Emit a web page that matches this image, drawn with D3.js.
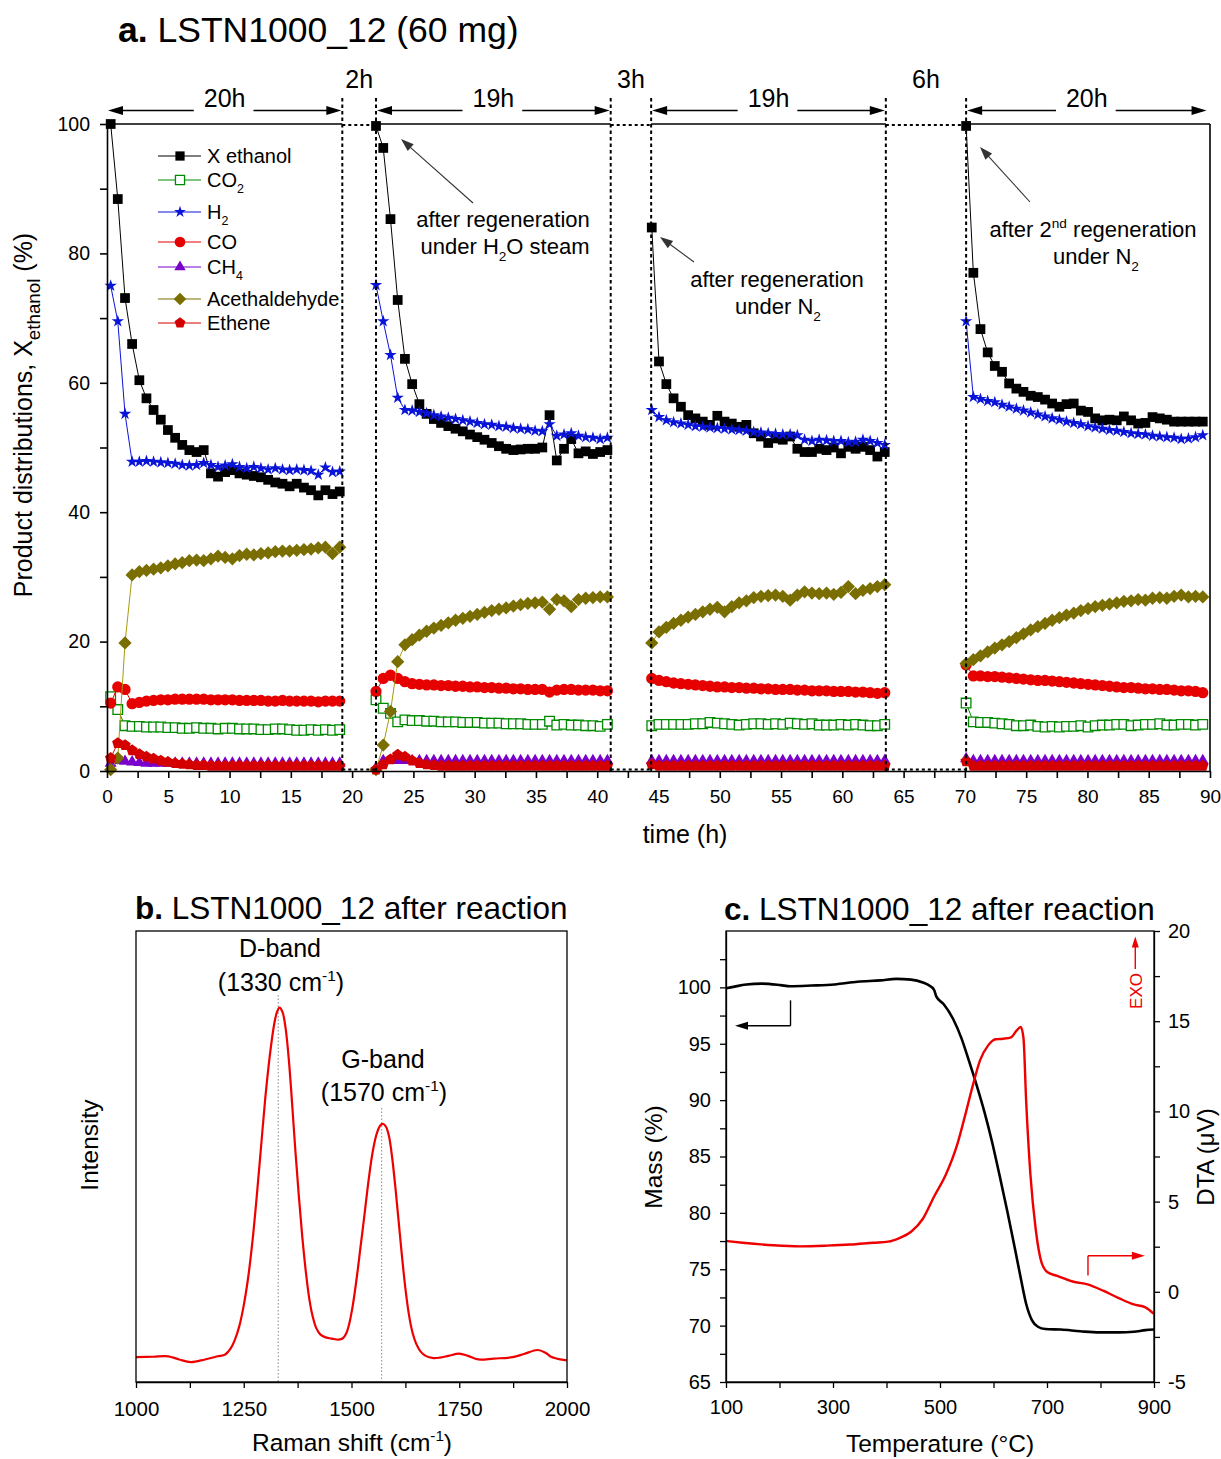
<!DOCTYPE html>
<html>
<head>
<meta charset="utf-8">
<script src="https://cdn.jsdelivr.net/npm/d3@7"></script>
<style>
  html, body { margin: 0; padding: 0; background: #fff; }
  svg { display: block; font-family: "Liberation Sans", Arial, Helvetica, sans-serif; }
</style>
</head>
<body>
<svg id="fig" width="1221" height="1459"></svg>
<script>
// ---------------- Panel a: product distribution vs time on stream ----------------
// sampling times (h) of the four reaction periods
const timesRun1 = [0.3, 0.88, 1.47, 2.05, 2.64, 3.22, 3.8, 4.39, 4.97, 5.56, 6.14, 6.72, 7.31, 7.89, 8.48, 9.06, 9.64, 10.23, 10.81, 11.4, 11.98, 12.56, 13.15, 13.73, 14.32, 14.9, 15.48, 16.07, 16.65, 17.24, 17.82, 18.4, 18.99];
const timesRun2 = [21.95, 22.54, 23.13, 23.72, 24.31, 24.9, 25.49, 26.08, 26.67, 27.26, 27.85, 28.44, 29.03, 29.62, 30.21, 30.8, 31.39, 31.98, 32.57, 33.16, 33.75, 34.34, 34.93, 35.52, 36.11, 36.7, 37.29, 37.88, 38.47, 39.06, 39.65, 40.24, 40.83];
const timesRun3 = [44.45, 45.04, 45.64, 46.23, 46.83, 47.42, 48.01, 48.61, 49.2, 49.8, 50.39, 50.98, 51.58, 52.17, 52.77, 53.36, 53.95, 54.55, 55.14, 55.74, 56.33, 56.92, 57.52, 58.11, 58.71, 59.3, 59.89, 60.49, 61.08, 61.68, 62.27, 62.86, 63.46];
const timesRun4 = [70.1, 70.69, 71.27, 71.86, 72.44, 73.03, 73.61, 74.2, 74.78, 75.37, 75.95, 76.54, 77.12, 77.71, 78.29, 78.88, 79.46, 80.05, 80.63, 81.22, 81.8, 82.39, 82.97, 83.56, 84.14, 84.73, 85.31, 85.9, 86.48, 87.07, 87.65, 88.24, 88.82, 89.41];

// ethanol conversion (%)
const xEthanol = [
  [100, 88.4, 73.1, 66.0, 60.4, 57.6, 55.8, 54.3, 52.7, 51.5, 50.4, 49.6, 49.3, 49.6, 46.0, 45.5, 46.2, 46.5, 46.0, 45.8, 45.6, 45.4, 45.0, 44.6, 44.4, 44.0, 44.4, 43.8, 43.4, 42.6, 43.4, 42.8, 43.2],
  [99.7, 96.3, 85.3, 72.8, 63.7, 59.8, 56.7, 55.2, 54.4, 53.8, 53.3, 52.9, 52.5, 52.0, 51.6, 51.2, 50.7, 50.2, 49.8, 49.6, 49.7, 49.8, 49.8, 50.0, 55.0, 48.0, 49.8, 51.3, 49.1, 49.4, 49.0, 49.3, 49.6],
  [84.0, 63.3, 59.8, 57.6, 56.3, 55.0, 54.5, 54.0, 53.5, 54.9, 54.0, 53.7, 53.2, 53.5, 52.2, 51.7, 50.7, 51.4, 51.2, 51.7, 49.8, 49.3, 49.3, 49.8, 49.6, 50.0, 49.1, 50.1, 49.8, 50.1, 49.6, 48.6, 49.3],
  [99.7, 77.0, 68.3, 64.7, 62.6, 61.7, 59.9, 59.1, 58.6, 58.0, 57.8, 57.4, 56.8, 56.3, 56.7, 56.8, 55.7, 55.5, 54.5, 54.2, 54.3, 54.2, 54.8, 54.2, 53.7, 53.8, 54.7, 54.5, 54.3, 54.0, 54.0, 54.0, 54.0, 54.0]
];
// CO2 (%)
const co2 = [
  [11.5, 9.5, 7.0, 6.9, 6.9, 6.8, 6.8, 6.8, 6.7, 6.7, 6.6, 6.6, 6.7, 6.6, 6.6, 6.5, 6.6, 6.6, 6.5, 6.5, 6.5, 6.4, 6.4, 6.5, 6.5, 6.4, 6.3, 6.3, 6.4, 6.3, 6.4, 6.3, 6.4],
  [11.0, 9.7, 8.9, 7.6, 7.9, 7.8, 7.8, 7.7, 7.7, 7.6, 7.6, 7.6, 7.5, 7.5, 7.5, 7.4, 7.4, 7.4, 7.3, 7.3, 7.3, 7.2, 7.2, 7.2, 7.7, 7.1, 7.2, 7.1, 7.1, 7.0, 7.0, 6.9, 7.2],
  [7.0, 7.2, 7.2, 7.2, 7.2, 7.2, 7.3, 7.3, 7.5, 7.4, 7.3, 7.2, 7.1, 7.2, 7.3, 7.3, 7.2, 7.3, 7.2, 7.4, 7.3, 7.2, 7.3, 7.1, 7.1, 7.1, 7.2, 7.1, 7.2, 7.1, 7.0, 7.0, 7.2],
  [10.5, 7.6, 7.5, 7.5, 7.4, 7.3, 7.2, 7.0, 7.0, 7.1, 6.9, 6.8, 6.9, 6.8, 6.9, 6.9, 7.0, 6.8, 7.0, 7.1, 7.1, 7.2, 7.2, 7.0, 7.1, 7.2, 7.2, 7.3, 7.1, 7.1, 7.2, 7.2, 7.1, 7.2]
];
// H2 (%)
const h2 = [
  [75.0, 69.5, 55.2, 47.8, 47.8, 47.9, 47.8, 47.7, 47.6, 47.5, 47.3, 47.2, 47.3, 47.6, 47.3, 47.0, 47.2, 47.4, 47.0, 46.8, 47.0, 46.8, 46.6, 46.8, 46.6, 46.5, 46.6, 46.5, 46.4, 45.8, 46.9, 46.2, 46.3],
  [75.1, 69.5, 64.3, 57.7, 55.8, 55.7, 55.5, 55.3, 55.0, 54.8, 54.6, 54.4, 54.2, 54.0, 53.8, 53.6, 53.5, 53.3, 53.2, 53.0, 52.9, 52.8, 52.6, 52.5, 53.6, 51.8, 52.0, 52.2, 51.8, 51.6, 51.5, 51.3, 51.5],
  [55.8, 54.7, 54.2, 53.9, 53.7, 53.5, 53.3, 53.2, 53.1, 53.0, 52.9, 52.8, 52.7, 52.6, 52.4, 52.3, 52.2, 52.1, 52.0, 52.0, 51.9, 51.2, 51.0, 51.2, 51.1, 51.0, 51.0, 50.8, 50.9, 51.2, 51.0, 50.7, 50.4],
  [69.5, 57.8, 57.5, 57.2, 57.0, 56.6, 56.3, 56.0, 55.7, 55.4, 55.1, 54.8, 54.5, 54.3, 54.0, 53.8, 53.6, 53.3, 53.1, 52.9, 52.7, 52.6, 52.4, 52.2, 52.1, 52.0, 51.8, 51.7, 51.6, 51.5, 51.3, 51.4, 51.6, 51.9]
];
// CO (%)
const co = [
  [10.5, 13.0, 12.6, 10.4, 10.6, 10.8, 10.9, 11.0, 11.0, 11.1, 11.1, 11.1, 11.1, 11.1, 11.0, 11.0, 11.0, 11.0, 10.9, 10.9, 10.9, 10.9, 10.8, 10.8, 10.9, 10.8, 10.8, 10.8, 10.8, 10.7, 10.8, 10.8, 10.8],
  [12.3, 14.3, 14.8, 14.3, 13.8, 13.5, 13.4, 13.3, 13.3, 13.2, 13.2, 13.1, 13.1, 13.0, 13.0, 12.9, 12.9, 12.8, 12.8, 12.7, 12.7, 12.6, 12.6, 12.6, 12.2, 12.5, 12.6, 12.6, 12.5, 12.5, 12.5, 12.4, 12.4],
  [14.3, 14.0, 13.8, 13.6, 13.5, 13.4, 13.3, 13.2, 13.1, 13.0, 13.0, 12.9, 12.9, 12.8, 12.8, 12.7, 12.7, 12.6, 12.6, 12.6, 12.5, 12.5, 12.4, 12.4, 12.4, 12.3, 12.3, 12.3, 12.2, 12.2, 12.1, 12.0, 12.1],
  [16.4, 14.7, 14.7, 14.6, 14.6, 14.5, 14.4, 14.3, 14.2, 14.1, 14.0, 14.0, 13.9, 13.8, 13.7, 13.6, 13.5, 13.4, 13.3, 13.2, 13.1, 13.0, 12.9, 12.9, 12.8, 12.7, 12.7, 12.6, 12.6, 12.5, 12.4, 12.4, 12.3, 12.1]
];
// CH4 (%)
const ch4 = [
  [1.2, 1.6, 1.5, 1.4, 1.3, 1.2, 1.2, 1.2, 1.2, 1.2, 1.2, 1.2, 1.2, 1.2, 1.2, 1.2, 1.2, 1.2, 1.2, 1.2, 1.2, 1.2, 1.2, 1.2, 1.2, 1.2, 1.2, 1.2, 1.2, 1.2, 1.2, 1.2, 1.2],
  [0.5, 1.6, 1.6, 1.6, 1.6, 1.6, 1.6, 1.6, 1.6, 1.6, 1.6, 1.6, 1.6, 1.6, 1.6, 1.6, 1.6, 1.6, 1.6, 1.6, 1.6, 1.6, 1.6, 1.6, 1.6, 1.6, 1.6, 1.6, 1.6, 1.6, 1.6, 1.6, 1.6],
  [1.6, 1.6, 1.6, 1.6, 1.6, 1.6, 1.6, 1.6, 1.6, 1.6, 1.6, 1.6, 1.6, 1.6, 1.6, 1.6, 1.6, 1.6, 1.6, 1.6, 1.6, 1.6, 1.6, 1.6, 1.6, 1.6, 1.6, 1.6, 1.6, 1.6, 1.6, 1.6, 1.6],
  [1.9, 1.6, 1.6, 1.6, 1.6, 1.6, 1.6, 1.6, 1.6, 1.6, 1.6, 1.6, 1.6, 1.6, 1.6, 1.6, 1.6, 1.6, 1.6, 1.6, 1.6, 1.6, 1.6, 1.6, 1.6, 1.6, 1.6, 1.6, 1.6, 1.6, 1.6, 1.6, 1.6, 1.6]
];
// acetaldehyde (%)
const acetaldehyde = [
  [0.2, 2.0, 19.8, 30.3, 30.8, 31.0, 31.2, 31.4, 31.7, 32.0, 32.2, 32.5, 32.6, 32.5, 32.8, 33.2, 33.0, 32.8, 33.3, 33.5, 33.4, 33.6, 33.7, 33.9, 34.0, 34.0, 34.1, 34.2, 34.3, 34.5, 34.6, 33.6, 34.6],
  [0.2, 4.0, 9.2, 16.9, 19.5, 20.3, 21.0, 21.6, 22.1, 22.5, 22.9, 23.3, 23.6, 23.9, 24.2, 24.5, 24.8, 25.0, 25.2, 25.5, 25.7, 25.9, 26.0, 26.1, 25.0, 26.5, 26.3, 25.4, 26.5, 26.7, 26.8, 26.9, 26.9],
  [19.8, 21.5, 22.2, 22.8, 23.3, 23.8, 24.2, 24.6, 25.0, 25.3, 24.6, 25.4, 26.0, 26.3, 26.8, 27.0, 27.1, 27.2, 27.0, 26.4, 27.2, 27.7, 27.5, 27.4, 27.5, 27.3, 27.6, 28.5, 27.4, 27.9, 28.2, 28.5, 28.8],
  [16.6, 17.2, 17.8, 18.4, 19.0, 19.5, 20.0, 20.6, 21.2, 21.8, 22.3, 22.8, 23.3, 23.7, 24.1, 24.4, 24.8, 25.1, 25.4, 25.6, 25.8, 26.0, 26.2, 26.3, 26.5, 26.4, 26.7, 26.8, 26.7, 27.0, 27.2, 26.9, 27.0, 26.9]
];
// ethene (%)
const ethene = [
  [2.0, 4.3, 4.0, 3.2, 2.6, 2.2, 1.9, 1.6, 1.4, 1.2, 1.1, 1.0, 0.9, 0.9, 0.8, 0.8, 0.8, 0.8, 0.8, 0.8, 0.8, 0.8, 0.8, 0.8, 0.8, 0.8, 0.8, 0.8, 0.8, 0.8, 0.8, 0.8, 0.8],
  [0.2, 1.0, 1.8, 2.5, 2.2, 1.6, 1.2, 1.0, 0.9, 0.8, 0.8, 0.8, 0.8, 0.8, 0.8, 0.8, 0.8, 0.8, 0.8, 0.8, 0.8, 0.8, 0.8, 0.8, 0.8, 0.8, 0.8, 0.8, 0.8, 0.8, 0.8, 0.8, 0.8],
  [1.0, 0.8, 0.8, 0.8, 0.8, 0.8, 0.8, 0.8, 0.8, 0.8, 0.8, 0.8, 0.8, 0.8, 0.8, 0.8, 0.8, 0.8, 0.8, 0.8, 0.8, 0.8, 0.8, 0.8, 0.8, 0.8, 0.8, 0.8, 0.8, 0.8, 0.8, 0.8, 0.8],
  [1.5, 0.8, 0.8, 0.8, 0.8, 0.8, 0.8, 0.8, 0.8, 0.8, 0.8, 0.8, 0.8, 0.8, 0.8, 0.8, 0.8, 0.8, 0.8, 0.8, 0.8, 0.8, 0.8, 0.8, 0.8, 0.8, 0.8, 0.8, 0.8, 0.8, 0.8, 0.8, 0.8, 0.8]
];

// reaction periods and regeneration gaps (h)
const reactionPeriods = [[0, 19.2], [21.95, 41.1], [44.4, 63.55], [70.1, 89.8]];
const reactionLabels = ["20h", "19h", "19h", "20h"];
const regenerationGaps = [[19.2, 21.95], [41.1, 44.4], [63.55, 70.1]];
const regenerationLabels = ["2h", "3h", "6h"];
const timeTicks = [0, 5, 10, 15, 20, 25, 30, 35, 40, 45, 50, 55, 60, 65, 70, 75, 80, 85, 90];
const percentTicks = [0, 20, 40, 60, 80, 100];

// ---------------- Panel b: Raman spectrum ----------------
const ramanShift = [1000, 1040, 1075, 1100, 1127, 1160, 1190, 1207, 1220, 1230, 1240, 1250, 1260, 1270, 1280, 1290, 1300, 1310, 1320, 1327, 1333, 1340, 1347, 1355, 1362, 1370, 1378, 1386, 1394, 1402, 1410, 1418, 1428, 1440, 1455, 1470, 1480, 1488, 1495, 1503, 1512, 1521, 1530, 1540, 1550, 1560, 1568, 1574, 1580, 1587, 1594, 1602, 1610, 1618, 1626, 1634, 1642, 1650, 1660, 1672, 1690, 1705, 1725, 1750, 1770, 1794, 1830, 1874, 1900, 1932, 1950, 1963, 1985, 2000];
const ramanIntensity = [0.055, 0.056, 0.057, 0.050, 0.044, 0.050, 0.057, 0.061, 0.075, 0.095, 0.125, 0.17, 0.23, 0.31, 0.41, 0.52, 0.63, 0.72, 0.79, 0.82, 0.83, 0.82, 0.785, 0.71, 0.62, 0.51, 0.41, 0.32, 0.245, 0.185, 0.145, 0.12, 0.105, 0.099, 0.096, 0.094, 0.097, 0.108, 0.13, 0.17, 0.23, 0.30, 0.37, 0.45, 0.515, 0.555, 0.57, 0.572, 0.566, 0.545, 0.5, 0.43, 0.35, 0.27, 0.2, 0.145, 0.108, 0.085, 0.068, 0.058, 0.053, 0.054, 0.058, 0.063, 0.058, 0.050, 0.052, 0.055, 0.062, 0.071, 0.065, 0.056, 0.050, 0.048];
const ramanBands = [1330, 1570];
const ramanTicks = [1000, 1250, 1500, 1750, 2000];

// ---------------- Panel c: TGA / DTA ----------------
const tgaTemp = [100, 109, 138, 167, 202, 220, 260, 303, 346, 389, 418, 446, 468, 482, 489, 493, 507, 525, 540, 554, 568, 583, 597, 611, 626, 640, 651, 661, 672, 683, 697, 726, 762, 798, 834, 862, 884, 900];
const tgaMass = [99.93, 100.0, 100.26, 100.33, 100.2, 100.1, 100.16, 100.26, 100.5, 100.62, 100.75, 100.69, 100.43, 100.1, 99.77, 99.2, 98.5, 97.15, 95.5, 93.5, 91.4, 88.96, 86.35, 83.4, 80.1, 76.85, 74.2, 71.94, 70.47, 69.9, 69.7, 69.65, 69.5, 69.4, 69.4, 69.45, 69.6, 69.65];
const dtaTemp = [100, 131, 188, 238, 289, 332, 375, 403, 425, 446, 468, 489, 511, 532, 547, 561, 575, 590, 604, 618, 633, 643, 651, 656, 661, 669, 679, 690, 701, 719, 748, 776, 805, 834, 862, 884, 900];
const dtaSignal = [2.82, 2.72, 2.58, 2.52, 2.56, 2.62, 2.72, 2.78, 2.99, 3.33, 4.05, 5.28, 6.5, 8.14, 9.78, 11.4, 12.84, 13.66, 14.0, 14.03, 14.11, 14.48, 14.68, 14.07, 10.6, 6.5, 3.44, 1.6, 1.08, 0.88, 0.57, 0.41, 0.06, -0.35, -0.7, -0.86, -1.23];
const tempTicks = [100, 300, 500, 700, 900];
const massTicks = [65, 70, 75, 80, 85, 90, 95, 100];
const dtaTicks = [-5, 0, 5, 10, 15, 20];

// =====================================================================
const svg = d3.select("#fig");

// rich text helper: parts = [{t, sub?, sup?}]
function richText(sel, parts, size, ratio) {
  const small = size * (ratio || 0.62);
  let shift = 0;
  parts.forEach(p => {
    const ts = sel.append("tspan").text(p.t);
    let target = 0;
    if (p.sub) { target = size * 0.32; ts.attr("font-size", small); }
    if (p.sup) { target = -size * 0.42; ts.attr("font-size", small); }
    if (target !== shift) { ts.attr("dy", target - shift); shift = target; }
  });
  return sel;
}

function arrowHead(g, x1, y1, x2, y2, color, len, half) {
  const a = Math.atan2(y2 - y1, x2 - x1);
  const bx = x2 - len * Math.cos(a), by = y2 - len * Math.sin(a);
  const px = -Math.sin(a) * half, py = Math.cos(a) * half;
  g.append("path")
    .attr("d", `M${x2},${y2}L${bx + px},${by + py}L${bx - px},${by - py}Z`)
    .attr("fill", color);
}
function arrow(g, x1, y1, x2, y2, color, width, len, half) {
  const a = Math.atan2(y2 - y1, x2 - x1);
  g.append("line").attr("x1", x1).attr("y1", y1)
    .attr("x2", x2 - (len - 2) * Math.cos(a)).attr("y2", y2 - (len - 2) * Math.sin(a))
    .attr("stroke", color).attr("stroke-width", width);
  arrowHead(g, x1, y1, x2, y2, color, len, half);
}

// custom marker shapes
const symbolPentagon = {
  draw(ctx, size) {
    const r = Math.sqrt(size / 2.378);
    for (let k = 0; k < 5; k++) {
      const ang = -Math.PI / 2 + k * 2 * Math.PI / 5;
      const x = r * Math.cos(ang), y = r * Math.sin(ang);
      if (k === 0) ctx.moveTo(x, y); else ctx.lineTo(x, y);
    }
    ctx.closePath();
  }
};
const symbolRhomb = {
  draw(ctx, size) {
    const h = Math.sqrt(size / 2);
    ctx.moveTo(0, -h); ctx.lineTo(h, 0); ctx.lineTo(0, h); ctx.lineTo(-h, 0); ctx.closePath();
  }
};

// ---------------- Panel a ----------------
const xA = d3.scaleLinear().domain([0, 90]).range([107, 1210]);
const yA = d3.scaleLinear().domain([0, 100]).range([771, 124]);
const gA = svg.append("g");

const runTimes = [timesRun1, timesRun2, timesRun3, timesRun4];
const seriesA = [
  { name: [{ t: "X ethanol" }], values: xEthanol, color: "#000000", line: "#000000", symbol: d3.symbolSquare, size: 95, fill: "#000000", legendY: 156 },
  { name: [{ t: "CO" }, { t: "2", sub: true }], values: co2, color: "#008a00", line: "#008a00", symbol: d3.symbolSquare, size: 92, fill: "#ffffff", open: true, legendY: 180 },
  { name: [{ t: "H" }, { t: "2", sub: true }], values: h2, color: "#0a14d8", line: "#0a14d8", symbol: d3.symbolStar, size: 48, fill: "#0a14d8", legendY: 212 },
  { name: [{ t: "CO" }], values: co, color: "#e60000", line: "#e60000", symbol: d3.symbolCircle, size: 100, fill: "#e60000", legendY: 242 },
  { name: [{ t: "CH" }, { t: "4", sub: true }], values: ch4, color: "#7a00cc", line: "#7a00cc", symbol: d3.symbolTriangle, size: 62, fill: "#7a00cc", legendY: 267 },
  { name: [{ t: "Acethaldehyde" }], values: acetaldehyde, color: "#7a6e00", line: "#a89a10", legendLine: "#7a6e00", symbol: symbolRhomb, size: 88, fill: "#7a6e00", legendY: 299 },
  { name: [{ t: "Ethene" }], values: ethene, color: "#d40000", line: "#d40000", symbol: symbolPentagon, size: 85, fill: "#d40000", legendY: 323 }
];

const lineA = d3.line().x(d => xA(d[0])).y(d => yA(d[1]));
seriesA.forEach(s => {
  const gs = gA.append("g");
  s.values.forEach((vals, r) => {
    const pts = vals.map((v, i) => [runTimes[r][i], v]);
    gs.append("path").attr("d", lineA(pts)).attr("fill", "none")
      .attr("stroke", s.line).attr("stroke-width", 1);
    gs.selectAll(null).data(pts).enter().append("path")
      .attr("transform", d => `translate(${xA(d[0])},${yA(d[1])})`)
      .attr("d", d3.symbol().type(s.symbol).size(s.size))
      .attr("fill", s.fill)
      .attr("stroke", s.open ? s.color : "none")
      .attr("stroke-width", s.open ? 1.3 : 0);
  });
});

// frame: solid over reaction periods, dotted over regeneration gaps
const frameA = gA.append("g").attr("stroke", "#000");
reactionPeriods.forEach((p, i) => {
  const x0 = i === 0 ? 0 : p[0];
  const x1 = i === reactionPeriods.length - 1 ? 90 : p[1];
  frameA.append("line").attr("x1", xA(x0)).attr("x2", xA(x1))
    .attr("y1", yA(100)).attr("y2", yA(100)).attr("stroke-width", 1.6);
});
frameA.append("line").attr("x1", xA(90)).attr("x2", xA(90))
  .attr("y1", yA(100)).attr("y2", yA(0)).attr("stroke-width", 1.6);
regenerationGaps.forEach(g => {
  [g[0], g[1]].forEach(t => {
    frameA.append("line").attr("x1", xA(t)).attr("x2", xA(t))
      .attr("y1", yA(0)).attr("y2", 95).attr("stroke-width", 2)
      .attr("stroke-dasharray", "3.5,3");
  });
  frameA.append("line").attr("x1", xA(g[0])).attr("x2", xA(g[1]))
    .attr("y1", yA(100) + 1).attr("y2", yA(100) + 1).attr("stroke-width", 2)
    .attr("stroke-dasharray", "3,3");
  frameA.append("line").attr("x1", xA(g[0])).attr("x2", xA(g[1]))
    .attr("y1", yA(0) - 1.5).attr("y2", yA(0) - 1.5).attr("stroke-width", 2)
    .attr("stroke-dasharray", "3,3");
});

// axes
const axisBA = d3.axisBottom(xA)
  .tickValues(d3.range(0, 90.01, 2.5)).tickSize(7).tickSizeOuter(0).tickPadding(12)
  .tickFormat(d => timeTicks.includes(d) ? d : "");
gA.append("g").attr("transform", `translate(0,${yA(0)})`).call(axisBA)
  .call(g => g.selectAll("text").attr("font-size", 19).attr("fill", "#000").attr("font-family", null))
  .call(g => g.selectAll("line,path").attr("stroke", "#000").attr("stroke-width", 1.6));
const axisLA = d3.axisLeft(yA)
  .tickValues(d3.range(0, 100.01, 10)).tickSize(7).tickSizeOuter(0).tickPadding(10)
  .tickFormat(d => percentTicks.includes(d) ? d : "");
gA.append("g").attr("transform", `translate(${xA(0)},0)`).call(axisLA)
  .call(g => g.selectAll("text").attr("font-size", 19.5).attr("fill", "#000").attr("font-family", null))
  .call(g => g.selectAll("line,path").attr("stroke", "#000").attr("stroke-width", 1.6));

// axis titles
gA.append("text").attr("x", 685).attr("y", 843).attr("text-anchor", "middle")
  .attr("font-size", 25).text("time (h)");
richText(gA.append("text").attr("transform", "translate(32,415) rotate(-90)")
  .attr("text-anchor", "middle").attr("font-size", 25),
  [{ t: "Product distributions, X" }, { t: "ethanol", sub: true }, { t: " (%)" }], 25, 0.75);

// period labels with span arrows
const gPer = gA.append("g");
reactionPeriods.forEach((p, i) => {
  const cx = xA((p[0] + p[1]) / 2);
  const txt = gPer.append("text").attr("x", cx).attr("y", 107).attr("text-anchor", "middle")
    .attr("font-size", 25).text(reactionLabels[i]);
  const w = txt.node().getComputedTextLength();
  arrow(gPer, cx - w / 2 - 10, 110.5, xA(p[0]) + 1, 110.5, "#000", 1.4, 15, 4.5);
  arrow(gPer, cx + w / 2 + 8, 110.5, xA(p[1]) - 1, 110.5, "#000", 1.4, 15, 4.5);
});
regenerationGaps.forEach((g, i) => {
  gPer.append("text").attr("x", xA((g[0] + g[1]) / 2)).attr("y", 88).attr("text-anchor", "middle")
    .attr("font-size", 25).text(regenerationLabels[i]);
});

// legend
const gLeg = gA.append("g");
seriesA.forEach(s => {
  gLeg.append("line").attr("x1", 158).attr("x2", 201).attr("y1", s.legendY).attr("y2", s.legendY)
    .attr("stroke", s.legendLine || s.line).attr("stroke-width", 1.2);
  gLeg.append("path").attr("transform", `translate(180,${s.legendY})`)
    .attr("d", d3.symbol().type(s.symbol).size(s.size * 0.9))
    .attr("fill", s.fill).attr("stroke", s.open ? s.color : "none").attr("stroke-width", s.open ? 1.3 : 0);
  richText(gLeg.append("text").attr("x", 207).attr("y", s.legendY + 7).attr("font-size", 20),
    s.name, 20);
});

// regeneration notes
const gNote = gA.append("g").attr("font-size", 22).attr("text-anchor", "middle");
richText(gNote.append("text").attr("x", 503).attr("y", 227), [{ t: "after regeneration" }], 22);
richText(gNote.append("text").attr("x", 505).attr("y", 254),
  [{ t: "under H" }, { t: "2", sub: true }, { t: "O steam" }], 22);
richText(gNote.append("text").attr("x", 777).attr("y", 287), [{ t: "after regeneration" }], 22);
richText(gNote.append("text").attr("x", 778).attr("y", 314), [{ t: "under N" }, { t: "2", sub: true }], 22);
richText(gNote.append("text").attr("x", 1093).attr("y", 237),
  [{ t: "after 2" }, { t: "nd", sup: true }, { t: " regeneration" }], 22);
richText(gNote.append("text").attr("x", 1096).attr("y", 264), [{ t: "under N" }, { t: "2", sub: true }], 22);
arrow(gA, 473, 203, 401, 139, "#333", 1.1, 13, 4.5);
arrow(gA, 694, 262, 660, 237, "#333", 1.1, 13, 4.5);
arrow(gA, 1030, 202, 980, 147, "#333", 1.1, 13, 4.5);

// title
richText(svg.append("text").attr("x", 118).attr("y", 42).attr("font-size", 35.5),
  [{ t: "a." }, { t: " LSTN1000_12 (60 mg)" }], 35.5)
  .select("tspan").attr("font-weight", "bold");

// ---------------- Panel b ----------------
const xB = d3.scaleLinear().domain([1000, 2000]).range([136, 567]);
const yB = d3.scaleLinear().domain([0, 1]).range([1382, 931]);
const gB = svg.append("g");
ramanBands.forEach((b, i) => {
  gB.append("line").attr("x1", xB(b)).attr("x2", xB(b))
    .attr("y1", i === 0 ? 995 : 1108).attr("y2", yB(0))
    .attr("stroke", "#888").attr("stroke-width", 1).attr("stroke-dasharray", "1.5,2");
});
gB.append("path")
  .attr("d", d3.line().curve(d3.curveCatmullRom.alpha(0.5)).x(d => xB(d[0])).y(d => yB(d[1]))(ramanShift.map((s, i) => [s, ramanIntensity[i]])))
  .attr("fill", "none").attr("stroke", "#ee0000").attr("stroke-width", 2.2);
gB.append("rect").attr("x", xB(1000)).attr("y", yB(1)).attr("width", xB(2000) - xB(1000))
  .attr("height", yB(0) - yB(1)).attr("fill", "none").attr("stroke", "#000").attr("stroke-width", 1.3);
const axisBB = d3.axisBottom(xB).tickValues(d3.range(1000, 2000.1, 125)).tickSize(6).tickSizeOuter(0)
  .tickPadding(13).tickFormat(d => ramanTicks.includes(d) ? d : "");
gB.append("g").attr("transform", `translate(0,${yB(0)})`).call(axisBB)
  .call(g => g.selectAll("text").attr("font-size", 20.5).attr("fill", "#000").attr("font-family", null))
  .call(g => g.selectAll("line,path").attr("stroke", "#000").attr("stroke-width", 1.3));
gB.append("text").attr("transform", "translate(98,1145) rotate(-90)").attr("text-anchor", "middle")
  .attr("font-size", 24.5).text("Intensity");
richText(gB.append("text").attr("x", 352).attr("y", 1451).attr("text-anchor", "middle").attr("font-size", 24.5),
  [{ t: "Raman shift (cm" }, { t: "-1", sup: true }, { t: ")" }], 24.5);
const gBand = gB.append("g").attr("font-size", 25).attr("text-anchor", "middle");
gBand.append("text").attr("x", 280).attr("y", 957).text("D-band");
richText(gBand.append("text").attr("x", 281).attr("y", 991),
  [{ t: "(1330 cm" }, { t: "-1", sup: true }, { t: ")" }], 25);
gBand.append("text").attr("x", 383).attr("y", 1068).text("G-band");
richText(gBand.append("text").attr("x", 384).attr("y", 1101),
  [{ t: "(1570 cm" }, { t: "-1", sup: true }, { t: ")" }], 25);
richText(svg.append("text").attr("x", 135).attr("y", 919).attr("font-size", 31.5),
  [{ t: "b." }, { t: " LSTN1000_12 after reaction" }], 31.5)
  .select("tspan").attr("font-weight", "bold");

// ---------------- Panel c ----------------
const xC = d3.scaleLinear().domain([100, 900]).range([726, 1154]);
const yMass = d3.scaleLinear().domain([65, 105]).range([1382, 931]);
const yDta = d3.scaleLinear().domain([-5, 20]).range([1382, 931]);
const gC = svg.append("g");
gC.append("path")
  .attr("d", d3.line().curve(d3.curveMonotoneX).x(d => xC(d[0])).y(d => yMass(d[1]))(tgaTemp.map((t, i) => [t, tgaMass[i]])))
  .attr("fill", "none").attr("stroke", "#000").attr("stroke-width", 2.6);
gC.append("path")
  .attr("d", d3.line().curve(d3.curveMonotoneX).x(d => xC(d[0])).y(d => yDta(d[1]))(dtaTemp.map((t, i) => [t, dtaSignal[i]])))
  .attr("fill", "none").attr("stroke", "#ee0000").attr("stroke-width", 2.4);
gC.append("rect").attr("x", xC(100)).attr("y", yMass(105)).attr("width", xC(900) - xC(100))
  .attr("height", yMass(65) - yMass(105)).attr("fill", "none").attr("stroke", "#000").attr("stroke-width", 1.3);
const styleAx = (g, fs) => g
  .call(s => s.selectAll("text").attr("font-size", fs).attr("fill", "#000").attr("font-family", null))
  .call(s => s.selectAll("line,path").attr("stroke", "#000").attr("stroke-width", 1.3));
gC.append("g").attr("transform", `translate(0,${yMass(65)})`)
  .call(d3.axisBottom(xC).tickValues(d3.range(100, 900.1, 100)).tickSize(6).tickSizeOuter(0).tickPadding(12)
    .tickFormat(d => tempTicks.includes(d) ? d : ""))
  .call(g => styleAx(g, 20));
gC.append("g").attr("transform", `translate(${xC(100)},0)`)
  .call(d3.axisLeft(yMass).tickValues(d3.range(65, 102.6, 2.5)).tickSize(6).tickSizeOuter(0).tickPadding(9)
    .tickFormat(d => massTicks.includes(d) ? d : ""))
  .call(g => styleAx(g, 20));
gC.append("g").attr("transform", `translate(${xC(900)},0)`)
  .call(d3.axisRight(yDta).tickValues(d3.range(-5, 20.1, 2.5)).tickSize(6).tickSizeOuter(0).tickPadding(8)
    .tickFormat(d => dtaTicks.includes(d) ? d : ""))
  .call(g => styleAx(g, 20));
gC.append("text").attr("x", 940).attr("y", 1452).attr("text-anchor", "middle").attr("font-size", 24.5)
  .text("Temperature (°C)");
gC.append("text").attr("transform", "translate(662,1157) rotate(-90)").attr("text-anchor", "middle")
  .attr("font-size", 24.5).text("Mass (%)");
gC.append("text").attr("transform", "translate(1214,1157) rotate(-90)").attr("text-anchor", "middle")
  .attr("font-size", 24).text("DTA (μV)");
// axis pointers
const gPtr = gC.append("g");
gPtr.append("line").attr("x1", xC(220.6)).attr("x2", xC(220.6)).attr("y1", yMass(98.85)).attr("y2", yMass(96.6))
  .attr("stroke", "#000").attr("stroke-width", 1.4);
arrow(gPtr, xC(220.6), yMass(96.6), xC(116.8), yMass(96.6), "#000", 1.4, 13, 4);
gPtr.append("line").attr("x1", xC(776.6)).attr("x2", xC(776.6)).attr("y1", yDta(0.9)).attr("y2", yDta(2.0))
  .attr("stroke", "#ee0000").attr("stroke-width", 1.4);
arrow(gPtr, xC(776.6), yDta(2.0), xC(883), yDta(2.0), "#ee0000", 1.4, 13, 4);
arrow(gPtr, xC(865), yDta(17.9), xC(865), yDta(19.7), "#ee0000", 1.4, 11, 3.5);
gPtr.append("text").attr("transform", `translate(${xC(865) + 7},${991}) rotate(-90)`).attr("text-anchor", "middle")
  .attr("font-size", 17).attr("fill", "#ee0000").text("EXO");
richText(svg.append("text").attr("x", 724).attr("y", 920).attr("font-size", 31.5),
  [{ t: "c." }, { t: " LSTN1000_12 after reaction" }], 31.5)
  .select("tspan").attr("font-weight", "bold");
</script>
</body>
</html>
